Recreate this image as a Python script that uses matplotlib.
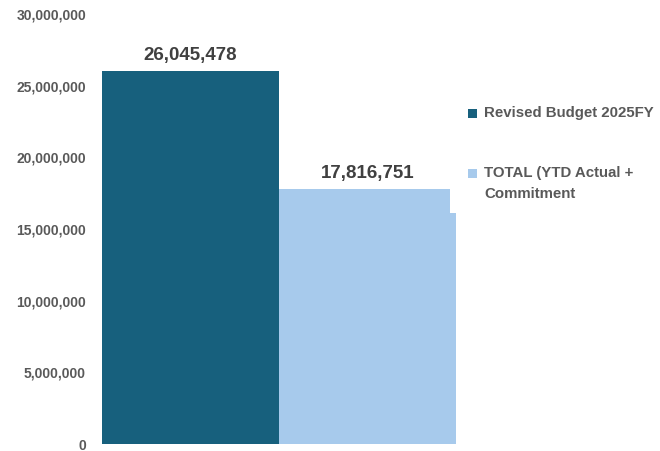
import matplotlib
matplotlib.use("Agg")
import matplotlib.pyplot as plt
from matplotlib.patches import Rectangle
from matplotlib.ticker import FuncFormatter

plt.rcParams['font.family'] = ['Liberation Sans', 'DejaVu Sans']

series = ["Revised Budget 2025FY", "TOTAL (YTD Actual +\nCommitment"]
values = [26045478, 17816751]
colors = ["#17607D", "#A7CAEC"]
yticks = [0, 5000000, 10000000, 15000000, 20000000, 25000000, 30000000]

W, H = 660, 451
fig = plt.figure(figsize=(W / 100, H / 100), dpi=100)
ax = fig.add_axes([102 / W, (H - 444) / H, (456 - 102) / W, (444 - 14) / H])

xs = list(range(len(values)))
ax.bar(xs, values, width=1.0, color=colors)
ax.set_xlim(-0.5, len(values) - 0.5)
ax.set_ylim(0, 30000000)
ax.set_yticks(yticks)
ax.yaxis.set_major_formatter(FuncFormatter(lambda v, p: f"{int(v):,}"))
ax.set_xticks([])
for s in ax.spines.values():
    s.set_visible(False)
ax.tick_params(axis='y', length=0, pad=11.5, labelsize=10, labelcolor="#595959")
for lab in ax.get_yticklabels():
    lab.set_fontweight("bold")

for x, v in zip(xs, values):
    ax.annotate(f"{v:,}", (x, v), xytext=(0, 5), textcoords="offset points",
                ha="center", va="bottom", fontsize=13.5, fontweight="bold",
                color="#404040")

# white legend panel sits over the plot's top-right corner
fig.add_artist(Rectangle((450 / W, (H - 213) / H), 1, 1, transform=fig.transFigure,
                         facecolor="white", edgecolor="none", zorder=3))

# legend entries: swatch aligned with the first line of each label
entry_tops = [113, 172.5]
for label, c, yc in zip(series, colors, entry_tops):
    fig.add_artist(Rectangle((468 / W, (H - yc - 5) / H), 9 / W, 9 / H,
                             transform=fig.transFigure, facecolor=c,
                             edgecolor="none", zorder=4))
    fig.text(484 / W, (H - yc + 7) / H, label, ha="left", va="top",
             fontsize=10.8, fontweight="bold", color="#595959",
             linespacing=1.7, zorder=5)

fig.savefig("out.png", dpi=100)
